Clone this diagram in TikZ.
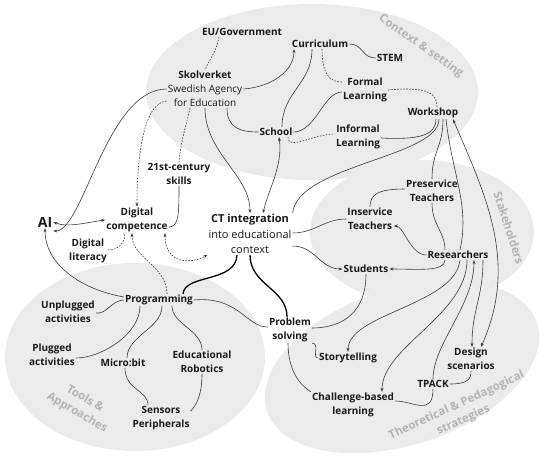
\documentclass[tikz,border=0pt]{standalone}
\usepackage{fontspec}
\setmainfont{Open Sans}
\usetikzlibrary{arrows.meta}
\definecolor{bgc}{HTML}{EBEBEB}
\definecolor{glab}{HTML}{B4B4B4}
\definecolor{lnc}{HTML}{3A3A3A}
\tikzset{
  lb/.style={font=\fontsize{10}{14}\selectfont\bfseries, align=center, inner sep=1pt, text=black!90},
  lr/.style={font=\fontsize{10}{14}\selectfont, align=center, inner sep=1pt, text=black!90},
  grp/.style={font=\fontsize{11.5}{16}\selectfont\bfseries, text=glab, align=center},
  ln/.style={draw=lnc, line width=0.6pt},
  dsh/.style={ln, dash pattern=on 1.6pt off 1.4pt},
  thk/.style={draw=black, line width=1.3pt},
  ar/.style={-{Stealth[length=4pt,width=3pt]}},
  arb/.style={{Stealth[length=4pt,width=3pt]}-{Stealth[length=4pt,width=3pt]}}
}
\begin{document}
\begin{tikzpicture}[x=1pt,y=-1pt]
\useasboundingbox (0,0) rectangle (550,456);
% background ellipses
\fill[bgc] (312,92) ellipse [x radius=166, y radius=88];
\fill[bgc] (135,357) ellipse [x radius=130, y radius=94];
\fill[bgc] (422,232) ellipse [x radius=112, y radius=72];
\fill[bgc, rotate around={18:(402,367)}] (402,367) ellipse [x radius=142, y radius=78];
% group labels
\node[grp, rotate=-35] (gctx) at (421,46) {Context \& setting};
\node[grp, rotate=-72] (gsta) at (509,228) {Stakeholders};
\node[grp, rotate=-30] (gtoo) at (81,406) {Tools \&\\Approaches};
\node[grp, rotate=25] (gthe) at (460,413) {Theoretical \& Pedagogical\\strategies};
% nodes
\node[lb] (eu) at (242,32) {EU/Government};
\node[lr] (sk) at (205,89) {\textbf{Skolverket}\\Swedish Agency\\for Education};
\node[lb] (cur) at (320,44) {Curriculum};
\node[lb] (stem) at (390,58) {STEM};
\node[lb] (formal) at (365,90) {Formal\\Learning};
\node[lb] (ws) at (433,113) {Workshop};
\node[lb] (school) at (276,132) {School};
\node[lb] (inf) at (358,137) {Informal\\Learning};
\node[lb] (skills) at (179,174) {21st-century\\skills};
\node[lb, font=\fontsize{14}{16}\selectfont\bfseries] (ai) at (45,222) {AI};
\node[lb] (dc) at (137,220) {Digital\\competence};
\node[lb] (dl) at (88,251) {Digital\\literacy};
\node[lr, font=\fontsize{11}{15.5}\selectfont] (ct) at (250,234) {\textbf{CT integration}\\into educational\\context};
\node[lb] (inserv) at (370,219) {Inservice\\Teachers};
\node[lb] (preserv) at (432,191) {Preservice\\Teachers};
\node[lb] (res) at (458,255) {Researchers};
\node[lb] (stu) at (366,269) {Students};
\node[lb] (prog) at (159,300) {Programming};
\node[lb] (unpl) at (68,312) {Unplugged\\activities};
\node[lb] (plug) at (52,355) {Plugged\\activities};
\node[lb] (micro) at (123,363) {Micro:bit};
\node[lb] (robo) at (202,362) {Educational\\Robotics};
\node[lb] (sens) at (161,418) {Sensors\\Peripherals};
\node[lb] (prob) at (290,330) {Problem\\solving};
\node[lb] (story) at (348,358) {Storytelling};
\node[lb] (chal) at (353,405) {Challenge-based\\learning};
\node[lb] (tpack) at (433,384) {TPACK};
\node[lb] (design) at (471,359) {Design\\scenarios};
% context edges
\draw[dsh] ([xshift=-23pt]eu.south) .. controls +(-2,14) and +(4,-10) .. (sk.north);
\draw[ln, ar] ([yshift=0pt]sk.east) .. controls +(28,-2) and +(0,22) .. ([xshift=-26pt]cur.south);
\draw[ln] ([xshift=22pt]sk.south) .. controls +(0,20) and +(-18,0) .. (school.west);
\draw[ln, ar] (sk.south) .. controls +(0,45) and +(0,-38) .. (ct.north);
\draw[ln, arb] ([xshift=3pt]school.south) .. controls +(4,28) and +(6,-25) .. ([xshift=13pt]ct.north);
\draw[ln, ar] (sk.west) .. controls +(-60,0) and +(30,0) .. ([yshift=-9pt]ai.east);
\draw[dsh, ar] ([yshift=-12pt]sk.west) .. controls +(-22,2) and +(0,-55) .. (dc.north);
\draw[dsh] ([xshift=-15pt]sk.south) .. controls +(-4,18) and +(2,-22) .. (skills.north);
\draw[ln] (skills.south) .. controls +(0,28) and +(10,0) .. ([yshift=-7pt]dc.east);
\draw[ln, arb] (ai.east) .. controls +(14,6) and +(-16,2) .. (dc.west);
\draw[dsh] ([yshift=1pt]dl.east) .. controls +(10,0) and +(0,10) .. ([xshift=-12pt]dc.south);
\draw[dsh, ar] ([xshift=8pt]prog.north) .. controls +(0,-28) and +(0,25) .. ([xshift=-5pt]dc.south);
\draw[dsh, arb] ([xshift=28pt]dc.south) .. controls +(0,30) and +(-18,10) .. (ct.south west);
\draw[ln, ar] ([yshift=3pt]prog.west) .. controls +(-45,-8) and +(0,35) .. (ai.south);
\draw[thk] ([xshift=-13pt]ct.south) .. controls +(-1,28) and +(2,-20) .. ([xshift=24pt]prog.north);
\draw[thk] (ct.south) .. controls +(0,30) and +(0,-28) .. ([xshift=-3pt]prob.north);
% tools edges
\draw[ln] (prog.west) .. controls +(-12,0) and +(10,2) .. ([yshift=-1pt]unpl.east);
\draw[ln] ([xshift=-19pt]prog.south) .. controls +(0,28) and +(25,0) .. ([yshift=-3pt]plug.east);
\draw[ln] ([xshift=3pt]prog.south) .. controls +(0,22) and +(0,-22) .. ([xshift=4pt]micro.north);
\draw[ln] ([xshift=13pt]prog.south) .. controls +(0,18) and +(0,-20) .. (robo.north);
\draw[ln] ([xshift=2pt]micro.south) .. controls +(0,22) and +(0,-15) .. ([xshift=-13pt]sens.north);
\draw[ln] (robo.south) .. controls +(0,20) and +(6,-6) .. ([yshift=7pt]sens.east);
\draw[ln] (prog.east) .. controls +(45,-4) and +(-22,0) .. ([yshift=3pt]prob.west);
% context internal
\draw[ln] ([xshift=-8pt]cur.south) .. controls +(0,35) and +(0,-35) .. ([xshift=6pt]school.north);
\draw[ln] (cur.east) .. controls +(14,0) and +(-14,0) .. (stem.west);
\draw[dsh] ([xshift=2pt]cur.south) .. controls +(0,28) and +(-10,0) .. ([yshift=8pt]formal.west);
\draw[dsh] (formal.east) .. controls +(42,-4) and +(0,-12) .. ([xshift=4pt]ws.north);
\draw[ln] (school.east) .. controls +(22,0) and +(-18,0) .. ([yshift=-2pt]formal.west);
\draw[dsh] ([xshift=12pt]school.south) .. controls +(0,14) and +(-22,0) .. ([yshift=3pt]inf.west);
\draw[ln] ([yshift=-1pt]inf.east) .. controls +(38,2) and +(0,16) .. ([xshift=3pt]ws.south);
\draw[ln] (ct.north east) .. controls +(5,-48) and +(0,38) .. ([xshift=6pt]ws.south);
\draw[ln] ([xshift=10pt]ws.south) .. controls +(0,28) and +(0,-28) .. (preserv.north);
\draw[ln] ([xshift=13pt]ws.south) .. controls +(6,55) and +(10,-45) .. ([xshift=2pt]res.north);
\draw[ln, arb] ([xshift=20pt]ws.south) .. controls +(32,75) and +(38,-85) .. ([xshift=10pt]design.north);
% stakeholders
\draw[ln] (preserv.south) .. controls +(0,22) and +(0,-18) .. ([xshift=-13pt]res.north);
\draw[ln] ([yshift=2pt]preserv.west) .. controls +(-28,0) and +(0,-12) .. (inserv.north);
\draw[ln, ar] (res.west) .. controls +(-16,0) and +(10,0) .. ([yshift=-7pt]inserv.east);
\draw[ln, ar] ([xshift=-13pt]res.south) .. controls +(0,12) and +(28,0) .. (stu.east);
\draw[ln] ([yshift=1pt]ct.east) .. controls +(22,0) and +(-22,0) .. (inserv.west);
\draw[ln, ar] ([yshift=-12pt]ct.east) .. controls +(22,0) and +(-22,0) .. (stu.west);
\draw[ln] (stu.south) .. controls +(0,45) and +(22,0) .. ([yshift=2pt]prob.east);
% theoretical
\draw[ln] (prob.south east) .. controls +(8,0) and +(-6,0) .. (story.west);
\draw[ln] ([xshift=-2pt]prob.south) .. controls +(0,28) and +(-10,-6) .. (chal.north west);
\draw[ln, ar] ([xshift=2pt]res.south) .. controls +(-5,45) and +(0,-38) .. (story.north);
\draw[ln, ar] ([xshift=9pt]res.south) .. controls +(0,55) and +(0,-45) .. ([xshift=29pt]chal.north);
\draw[ln, ar] (tpack.north) .. controls +(0,-35) and +(0,45) .. ([xshift=16pt]res.south);
\draw[ln] (tpack.south) .. controls +(0,28) and +(18,0) .. ([yshift=4pt]chal.east);
\draw[ln] (tpack.east) .. controls +(18,0) and +(0,8) .. (design.south);
\draw[ln, ar] ([xshift=25pt]res.south) .. controls +(0,38) and +(0,-38) .. ([xshift=1pt]design.north);
\end{tikzpicture}
\end{document}
